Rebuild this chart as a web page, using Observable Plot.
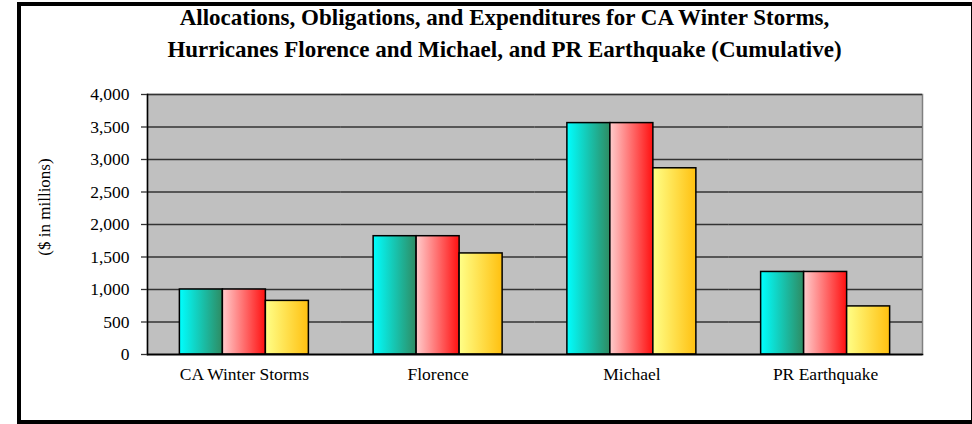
<!DOCTYPE html>
<html>
<head>
<meta charset="utf-8">
<script src="https://cdn.jsdelivr.net/npm/d3@7"></script>
<script src="https://cdn.jsdelivr.net/npm/@observablehq/plot@0.6"></script>
<style>
  html, body { margin: 0; padding: 0; background: #fff; }
  #page { position: relative; width: 972px; height: 424px; overflow: hidden; font-family: "Liberation Serif", "Times New Roman", serif; }
  #border { position: absolute; left: 17px; top: 2px; width: 950px; height: 414px; border: 4px solid #000; }
  #title { position: absolute; left: 17px; width: 975px; top: 2px; text-align: center; font-weight: bold; font-size: 23px; line-height: 32px; color: #000; }
  #ylabel { position: absolute; left: 45px; top: 207px; transform: translate(-50%, -50%) rotate(-90deg); font-size: 17px; white-space: nowrap; }
  #chart { position: absolute; left: 0; top: 80px; }
</style>
</head>
<body>
<div id="page">
  <div id="border"></div>
  <div id="title">Allocations, Obligations, and Expenditures for CA Winter Storms,<br>Hurricanes Florence and Michael, and PR Earthquake (Cumulative)</div>
  <div id="ylabel">($ in millions)</div>
  <div id="chart"></div>
</div>
<script>
const categories = ["CA Winter Storms", "Florence", "Michael", "PR Earthquake"];
const series = ["Allocations", "Obligations", "Expenditures"];
const allocations = [1000, 1820, 3560, 1270];
const obligations = [1000, 1820, 3560, 1270];
const expenditures = [825, 1555, 2865, 740];
const yTicks = [0, 500, 1000, 1500, 2000, 2500, 3000, 3500, 4000];

const gradients = {
  Allocations: ["#00FFFF", "#2E8B62"],
  Obligations: ["#FFCCCC", "#FF1010"],
  Expenditures: ["#FFFF88", "#FFC010"]
};
const gradId = {Allocations: "gAlloc", Obligations: "gObl", Expenditures: "gExp"};

const values = [allocations, obligations, expenditures];
const data = [];
categories.forEach((c, i) => {
  series.forEach((s, j) => data.push({category: c, series: s, value: values[j][i]}));
});

const chart = Plot.plot({
  width: 972,
  height: 320,
  marginLeft: 147,
  marginRight: 50,
  marginTop: 14,
  marginBottom: 46,
  style: {fontFamily: "'Liberation Serif', 'Times New Roman', serif", fontSize: "17px", color: "#000", background: "transparent"},
  fx: {domain: categories, padding: 0, round: false, label: null, axis: null},
  x: {domain: series, paddingInner: 0, paddingOuter: 0.753, round: false, axis: null},
  y: {domain: [0, 4000], ticks: yTicks, label: null, axis: null},
  color: {type: "identity"},
  marks: [
    Plot.frame({facet: "super", fill: "#C0C0C0", stroke: "#808080", strokeWidth: 1.5}),
    Plot.ruleY(yTicks.filter(d => d > 0), {stroke: "#333", strokeWidth: 1.4}),
    Plot.barY(data, {fx: "category", x: "series", y: "value", fill: d => `url(#${gradId[d.series]})`, stroke: "#000", strokeWidth: 1.5}),
    Plot.ruleY([0], {stroke: "#000", strokeWidth: 1.5}),
    Plot.frame({facet: "super", anchor: "bottom", stroke: "#000", strokeWidth: 1.5,
      render(index, scales, vals, dims, ctx, next) {
        const g = next(index, scales, vals, dims, ctx);
        const fx = scales.fx;
        const y0 = dims.height - dims.marginBottom;
        const sel = d3.select(g);
        if (fx) {
          const bounds = categories.map(c => fx(c)).concat([fx(categories[categories.length - 1]) + fx.bandwidth()]);
          bounds.forEach(b => {
            sel.append("line").attr("x1", b).attr("x2", b).attr("y1", y0).attr("y2", y0 + 5)
              .attr("stroke", "#000").attr("stroke-width", 1.3);
          });
        }
        return g;
      }
    }),
    Plot.frame({facet: "super", anchor: "left", stroke: "#000", strokeWidth: 1.5}),
    Plot.axisY({ticks: yTicks, tickSize: 6, tickPadding: 12, tickFormat: d3.format(","), label: null, fontSize: 17.5, stroke: "#333", strokeWidth: 1.3}),
    Plot.axisFx({anchor: "bottom", tickSize: 0, tickPadding: 13, fontSize: 17.5, label: null})
  ]
});

const svg = chart.tagName.toLowerCase() === "svg" ? chart : chart.querySelector("svg");
const defs = d3.select(svg).insert("defs", ":first-child");
series.forEach(s => {
  const lg = defs.append("linearGradient").attr("id", gradId[s]).attr("x1", "0").attr("x2", "1").attr("y1", "0").attr("y2", "0");
  lg.append("stop").attr("offset", "0").attr("stop-color", gradients[s][0]);
  lg.append("stop").attr("offset", "1").attr("stop-color", gradients[s][1]);
});
document.getElementById("chart").appendChild(chart);
</script>
</body>
</html>
